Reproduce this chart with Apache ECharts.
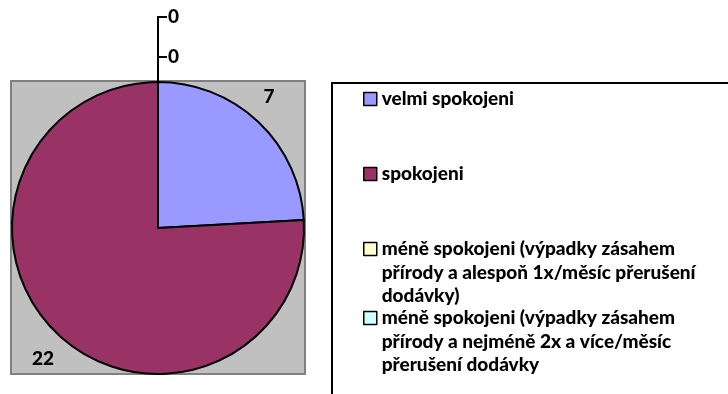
<!DOCTYPE html>
<html>
<head>
<meta charset="utf-8">
<script src="https://cdn.jsdelivr.net/npm/echarts@6/dist/echarts.min.js"></script>
<style>
  html, body { margin: 0; padding: 0; background: #ffffff; }
  #chart { width: 728px; height: 394px; }
</style>
</head>
<body>
<div id="chart"></div>
<script>
// Survey answers: satisfaction with the supply
const categories = [
  'velmi spokojeni',
  'spokojeni',
  'méně spokojeni (výpadky zásahem\npřírody a alespoň 1x/měsíc přerušení\ndodávky)',
  'méně spokojeni (výpadky zásahem\npřírody a nejméně 2x a více/měsíc\npřerušení dodávky'
];
const values = [7, 22, 0, 0];
const colors = ['#9999FF', '#993366', '#FFFFCC', '#CCFFFF'];

// Layout
const FONT = 'Lato, "Open Sans", sans-serif';
const WEIGHT = 900;
const cx = 158, cy = 228, R = 146;
const LINE = 23.5;                       // legend line height
const legendIconCenters = [99, 174, 249, 318];
const legendLeft = 363;

const chart = echarts.init(document.getElementById('chart'), null, { renderer: 'canvas' });

const legends = categories.map((name, i) => {
  const lines = name.split('\n').length;
  // blank lines above keep the first text line level with the icon
  const lead = '\n'.repeat(lines - 1);
  const blockH = (2 * lines - 1) * LINE;
  return {
    orient: 'vertical',
    left: legendLeft,
    top: legendIconCenters[i] - blockH / 2,
    padding: 0,
    itemWidth: 13,
    itemHeight: 13,
    itemGap: 0,
    icon: 'rect',
    selectedMode: false,
    data: [name],
    formatter: n => lead + n,
    itemStyle: { borderColor: '#000', borderWidth: 1.5 },
    textStyle: {
      fontFamily: FONT, fontWeight: WEIGHT, fontSize: 19, color: '#000',
      lineHeight: LINE
    }
  };
});

// Placement of value labels
function placeLabel(params) {
  const i = params.dataIndex;
  if (i === 0) {
    return { x: cx + R - 35, y: cy - R + 15, align: 'center', verticalAlign: 'middle' };
  }
  if (i === 1) {
    return { x: cx - R + 31, y: cy + R - 15, align: 'center', verticalAlign: 'middle' };
  }
  const ly = i === 2 ? 57 : 17;
  return {
    x: cx + 10, y: ly, align: 'left', verticalAlign: 'middle',
    labelLinePoints: [[cx, cy - R], [cx, ly], [cx + 9, ly]]
  };
}

const option = {
  backgroundColor: '#ffffff',
  animation: false,
  graphic: [
    {
      type: 'rect', z: -10, silent: true,
      shape: { x: cx - R - 1, y: cy - R - 1, width: 2 * R + 2, height: 2 * R + 1 },
      style: { fill: '#C0C0C0', stroke: '#808080', lineWidth: 2 }
    },
    {
      type: 'rect', z: -10, silent: true,
      shape: { x: 332, y: 83, width: 500, height: 400 },
      style: { fill: 'none', stroke: '#000000', lineWidth: 2 }
    }
  ],
  legend: legends,
  series: [{
    type: 'pie',
    center: [cx, cy],
    radius: R,
    startAngle: 90,
    clockwise: true,
    avoidLabelOverlap: false,
    stillShowZeroSum: true,
    silent: true,
    emphasis: { disabled: true },
    itemStyle: { borderColor: '#000', borderWidth: 2 },
    label: {
      show: true, position: 'outside', formatter: '{c}',
      fontFamily: FONT, fontWeight: WEIGHT, fontSize: 19, color: '#000'
    },
    labelLine: { show: true, lineStyle: { color: '#000', width: 2 } },
    labelLayout: placeLabel,
    data: categories.map((name, i) => ({
      name: name,
      value: values[i],
      itemStyle: { color: colors[i] },
      labelLine: { show: values[i] === 0 }
    }))
  }]
};

chart.setOption(option);
</script>
</body>
</html>
